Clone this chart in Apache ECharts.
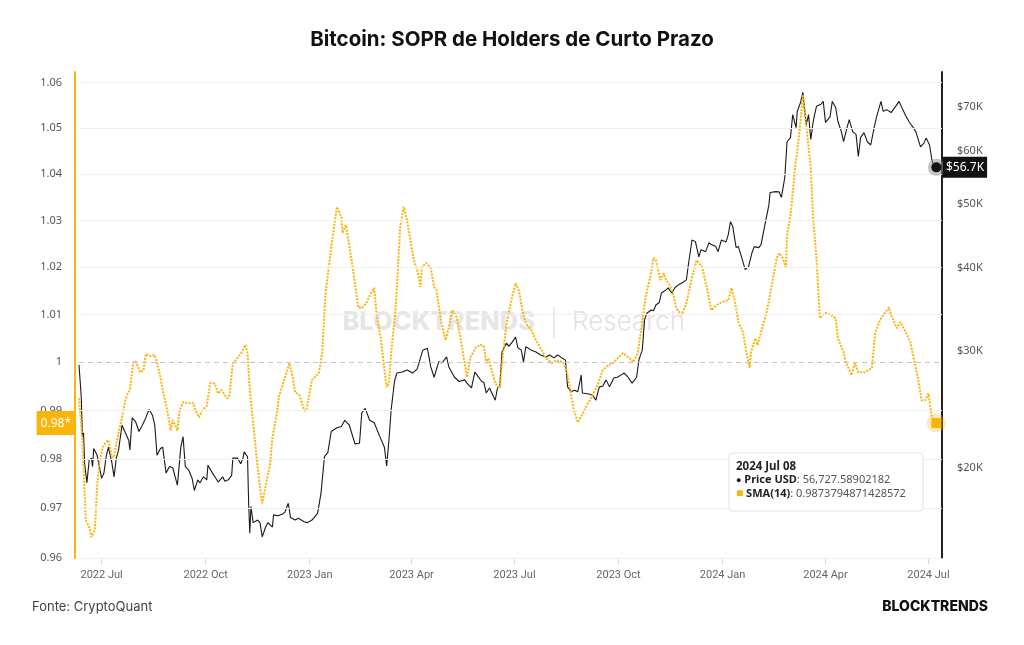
<!DOCTYPE html>
<html><head><meta charset="utf-8">
<script src="https://cdn.jsdelivr.net/npm/echarts@6/dist/echarts.min.js"></script>
<style>html,body{margin:0;padding:0;background:#fff}#c{width:1024px;height:645px}</style>
</head><body><div id="c"></div>
<script>
const smaDates = ['2022-06-11','2022-06-14','2022-06-17','2022-06-20','2022-06-22','2022-06-25','2022-06-27','2022-06-29','2022-07-02','2022-07-04','2022-07-07','2022-07-10','2022-07-12','2022-07-14','2022-07-17','2022-07-19','2022-07-22','2022-07-24','2022-07-26','2022-07-29','2022-07-31','2022-08-04','2022-08-07','2022-08-09','2022-08-13','2022-08-17','2022-08-19','2022-08-22','2022-08-24','2022-08-28','2022-08-31','2022-09-02','2022-09-06','2022-09-08','2022-09-11','2022-09-15','2022-09-20','2022-09-22','2022-09-25','2022-09-28','2022-10-02','2022-10-05','2022-10-09','2022-10-12','2022-10-15','2022-10-20','2022-10-22','2022-10-25','2022-10-29','2022-11-02','2022-11-05','2022-11-07','2022-11-09','2022-11-12','2022-11-15','2022-11-18','2022-11-20','2022-11-24','2022-11-27','2022-11-29','2022-12-03','2022-12-05','2022-12-08','2022-12-12','2022-12-14','2022-12-17','2022-12-19','2022-12-23','2022-12-27','2022-12-29','2023-01-03','2023-01-09','2023-01-12','2023-01-15','2023-01-20','2023-01-25','2023-01-29','2023-01-30','2023-02-02','2023-02-07','2023-02-13','2023-02-16','2023-02-20','2023-02-24','2023-02-27','2023-03-01','2023-03-05','2023-03-07','2023-03-10','2023-03-12','2023-03-14','2023-03-18','2023-03-22','2023-03-25','2023-03-28','2023-03-31','2023-04-03','2023-04-06','2023-04-09','2023-04-10','2023-04-14','2023-04-18','2023-04-21','2023-04-23','2023-04-27','2023-05-01','2023-05-04','2023-05-07','2023-05-11','2023-05-15','2023-05-20','2023-05-23','2023-05-28','2023-06-01','2023-06-04','2023-06-06','2023-06-08','2023-06-11','2023-06-14','2023-06-18','2023-06-20','2023-06-24','2023-06-29','2023-07-02','2023-07-05','2023-07-08','2023-07-11','2023-07-16','2023-07-20','2023-07-25','2023-07-29','2023-08-03','2023-08-07','2023-08-13','2023-08-16','2023-08-19','2023-08-22','2023-08-26','2023-08-31','2023-09-04','2023-09-09','2023-09-13','2023-09-17','2023-09-22','2023-09-26','2023-10-01','2023-10-05','2023-10-10','2023-10-14','2023-10-18','2023-10-21','2023-10-25','2023-10-29','2023-11-01','2023-11-03','2023-11-07','2023-11-10','2023-11-12','2023-11-16','2023-11-19','2023-11-21','2023-11-26','2023-11-30','2023-12-05','2023-12-09','2023-12-14','2023-12-18','2023-12-22','2023-12-27','2023-12-31','2024-01-06','2024-01-09','2024-01-12','2024-01-15','2024-01-19','2024-01-22','2024-01-25','2024-01-26','2024-01-30','2024-02-01','2024-02-04','2024-02-09','2024-02-12','2024-02-15','2024-02-18','2024-02-20','2024-02-23','2024-02-26','2024-02-27','2024-03-01','2024-03-02','2024-03-05','2024-03-08','2024-03-11','2024-03-12','2024-03-15','2024-03-19','2024-03-21','2024-03-24','2024-03-27','2024-03-29','2024-04-02','2024-04-06','2024-04-10','2024-04-12','2024-04-17','2024-04-19','2024-04-24','2024-04-27','2024-04-30','2024-05-06','2024-05-12','2024-05-15','2024-05-20','2024-05-24','2024-05-27','2024-05-29','2024-06-03','2024-06-06','2024-06-11','2024-06-15','2024-06-18','2024-06-22','2024-06-25','2024-06-28','2024-07-01','2024-07-04','2024-07-08'];
const smaValues = [0.9925,0.9839,0.9676,0.9662,0.9642,0.9656,0.9743,0.9791,0.9824,0.9832,0.9839,0.9804,0.9804,0.9832,0.9865,0.9886,0.9921,0.9935,0.9942,1.0000,1.0002,0.9979,0.9983,1.0017,1.0013,1.0015,0.9998,0.9969,0.9942,0.9900,0.9859,0.9880,0.9859,0.9900,0.9917,0.9915,0.9915,0.9900,0.9886,0.9900,0.9910,0.9956,0.9956,0.9935,0.9942,0.9925,0.9931,0.9998,1.0008,1.0021,1.0036,1.0019,0.9942,0.9873,0.9804,0.9743,0.9710,0.9757,0.9791,0.9845,0.9894,0.9931,0.9952,0.9983,0.9998,0.9969,0.9938,0.9931,0.9900,0.9900,0.9963,0.9977,1.0019,1.0145,1.0243,1.0329,1.0307,1.0273,1.0290,1.0215,1.0115,1.0113,1.0124,1.0145,1.0156,1.0103,1.0046,1.0004,0.9948,0.9956,1.0019,1.0115,1.0286,1.0329,1.0301,1.0258,1.0215,1.0194,1.0158,1.0200,1.0209,1.0198,1.0158,1.0151,1.0088,1.0046,1.0073,1.0109,1.0094,1.0040,0.9969,1.0010,1.0031,1.0036,1.0034,0.9998,1.0008,0.9983,0.9956,0.9946,0.9998,1.0082,1.0137,1.0166,1.0150,1.0109,1.0082,1.0067,1.0046,1.0025,1.0008,0.9998,1.0004,1.0000,0.9983,0.9948,0.9906,0.9875,0.9896,0.9915,0.9935,0.9956,0.9983,0.9994,0.9998,1.0010,1.0019,1.0010,1.0000,1.0019,1.0067,1.0137,1.0179,1.0220,1.0215,1.0173,1.0187,1.0173,1.0158,1.0137,1.0113,1.0099,1.0124,1.0179,1.0215,1.0200,1.0158,1.0109,1.0120,1.0126,1.0130,1.0156,1.0126,1.0084,1.0063,1.0021,0.9988,1.0021,1.0050,1.0036,1.0063,1.0105,1.0141,1.0183,1.0220,1.0230,1.0220,1.0200,1.0268,1.0311,1.0333,1.0413,1.0470,1.0544,1.0573,1.0507,1.0413,1.0305,1.0220,1.0092,1.0099,1.0103,1.0099,1.0092,1.0050,1.0021,1.0000,0.9973,0.9998,0.9979,0.9979,0.9988,1.0063,1.0092,1.0105,1.0115,1.0099,1.0071,1.0084,1.0063,1.0042,1.0008,0.9963,0.9921,0.9921,0.9935,0.9886,0.9873794871428572];

const priceDates = ['2022-06-11','2022-06-13','2022-06-14','2022-06-15','2022-06-16','2022-06-18','2022-06-20','2022-06-22','2022-06-23','2022-06-24','2022-06-27','2022-06-29','2022-07-01','2022-07-03','2022-07-05','2022-07-07','2022-07-10','2022-07-12','2022-07-14','2022-07-16','2022-07-19','2022-07-22','2022-07-25','2022-07-26','2022-07-28','2022-07-31','2022-08-03','2022-08-06','2022-08-09','2022-08-12','2022-08-15','2022-08-17','2022-08-19','2022-08-22','2022-08-24','2022-08-27','2022-08-30','2022-09-02','2022-09-04','2022-09-06','2022-09-09','2022-09-11','2022-09-13','2022-09-16','2022-09-19','2022-09-21','2022-09-24','2022-09-26','2022-09-29','2022-10-02','2022-10-03','2022-10-07','2022-10-10','2022-10-12','2022-10-16','2022-10-18','2022-10-21','2022-10-24','2022-10-25','2022-10-29','2022-11-01','2022-11-03','2022-11-04','2022-11-07','2022-11-08','2022-11-09','2022-11-10','2022-11-12','2022-11-16','2022-11-18','2022-11-20','2022-11-23','2022-11-25','2022-11-29','2022-11-30','2022-12-04','2022-12-08','2022-12-10','2022-12-13','2022-12-15','2022-12-19','2022-12-22','2022-12-27','2022-12-30','2023-01-03','2023-01-08','2023-01-11','2023-01-14','2023-01-17','2023-01-20','2023-01-25','2023-01-29','2023-02-01','2023-02-05','2023-02-10','2023-02-14','2023-02-16','2023-02-19','2023-02-23','2023-02-27','2023-03-04','2023-03-08','2023-03-10','2023-03-12','2023-03-14','2023-03-17','2023-03-19','2023-03-24','2023-03-28','2023-04-02','2023-04-06','2023-04-11','2023-04-15','2023-04-18','2023-04-21','2023-04-25','2023-04-28','2023-05-02','2023-05-04','2023-05-09','2023-05-13','2023-05-18','2023-05-20','2023-05-24','2023-05-27','2023-05-29','2023-06-02','2023-06-04','2023-06-06','2023-06-09','2023-06-11','2023-06-14','2023-06-16','2023-06-18','2023-06-20','2023-06-24','2023-06-26','2023-06-29','2023-07-02','2023-07-04','2023-07-07','2023-07-09','2023-07-11','2023-07-16','2023-07-20','2023-07-24','2023-07-29','2023-08-01','2023-08-05','2023-08-08','2023-08-12','2023-08-15','2023-08-17','2023-08-20','2023-08-23','2023-08-26','2023-08-29','2023-08-30','2023-09-02','2023-09-05','2023-09-08','2023-09-11','2023-09-14','2023-09-17','2023-09-20','2023-09-23','2023-09-27','2023-09-30','2023-10-03','2023-10-06','2023-10-09','2023-10-13','2023-10-17','2023-10-19','2023-10-22','2023-10-24','2023-10-26','2023-10-30','2023-11-01','2023-11-03','2023-11-06','2023-11-08','2023-11-12','2023-11-14','2023-11-17','2023-11-20','2023-11-23','2023-11-26','2023-11-30','2023-12-02','2023-12-05','2023-12-08','2023-12-11','2023-12-13','2023-12-17','2023-12-20','2023-12-22','2023-12-26','2023-12-28','2023-12-31','2024-01-04','2024-01-06','2024-01-08','2024-01-10','2024-01-13','2024-01-15','2024-01-18','2024-01-21','2024-01-24','2024-01-27','2024-01-29','2024-02-02','2024-02-04','2024-02-08','2024-02-11','2024-02-12','2024-02-17','2024-02-20','2024-02-22','2024-02-25','2024-02-27','2024-03-01','2024-03-03','2024-03-06','2024-03-07','2024-03-10','2024-03-12','2024-03-13','2024-03-15','2024-03-17','2024-03-19','2024-03-21','2024-03-23','2024-03-24','2024-03-28','2024-03-30','2024-04-01','2024-04-05','2024-04-07','2024-04-10','2024-04-12','2024-04-15','2024-04-17','2024-04-20','2024-04-22','2024-04-25','2024-04-28','2024-04-30','2024-05-02','2024-05-05','2024-05-08','2024-05-11','2024-05-14','2024-05-16','2024-05-20','2024-05-22','2024-05-25','2024-05-29','2024-06-02','2024-06-05','2024-06-08','2024-06-11','2024-06-14','2024-06-18','2024-06-20','2024-06-24','2024-06-27','2024-06-29','2024-07-02','2024-07-04','2024-07-05','2024-07-08'];
const priceValues = [28600,25600,22300,22600,20300,19000,20560,20700,20100,21400,20900,20100,19300,19650,20800,21500,20400,19400,20700,21300,23200,22600,22000,21300,23800,23500,22700,23200,23800,24500,24000,23200,20900,21400,21500,19650,20100,20000,19400,18850,21500,22300,20100,19850,19300,18500,19200,19000,19400,19200,20200,19650,19300,19050,19400,19100,19200,19500,20700,20700,20300,20700,21150,20800,17700,15950,17500,16550,16700,16550,15750,16300,16550,16300,17000,16950,17050,17150,17700,16850,16700,16800,16600,16550,16700,17100,18350,20800,21100,22700,23000,23100,23600,23200,21750,21800,24200,24600,23600,23400,22300,21500,20150,22000,24500,27050,27800,27900,28100,27800,28200,30100,30300,28400,27400,28900,28800,29400,28400,27400,27000,27150,26850,26400,27900,27600,27000,26900,25950,26400,25950,25300,26400,26500,29900,30850,30500,30950,31500,30350,30100,28900,30450,30100,29900,29600,29400,29600,29300,29600,29300,29100,26500,26050,26200,26050,27600,25950,25900,25850,25750,25300,26500,26550,27150,26500,27350,27400,27600,27800,27450,26850,27400,29100,30100,33400,34200,34600,34500,35200,35500,36700,37100,37350,36700,37400,37750,38000,38400,40750,44100,43850,41600,42650,42350,43700,43400,43100,42350,44100,43800,44900,47000,46200,42950,43100,41450,39800,40200,42200,43100,42950,43400,47000,49850,52000,52150,52100,51100,54750,62000,62900,68100,65100,68850,71100,73600,70600,65800,68100,62500,66300,68900,70100,70600,71300,66300,67600,71300,69800,66500,64200,62000,65100,66950,64200,63600,58900,62900,64000,62000,61300,65100,67400,71300,68900,69300,68600,70100,71300,69500,67800,66400,65000,64100,60900,61700,62800,61300,58300,57500,56727.58902182];

const leftTicks = [0.96,0.97,0.98,0.99,1,1.01,1.02,1.03,1.04,1.05,1.06];
const rightTicks = [20000,30000,40000,50000,60000,70000];
const xMin = '2022-06-11', xMax = '2024-07-13';
const leftRange = [0.96, 1.06237];
const rightRange = [14640, 78960];

const MON = ['Jan','Feb','Mar','Apr','May','Jun','Jul','Aug','Sep','Oct','Nov','Dec'];
const ORANGE = '#F9B50B';
const DAY = 86400000;
const priceData = priceDates.map((d,i)=>[d, priceValues[i]]);
const smaData = smaDates.map((d,i)=>[d, smaValues[i]]);
const lastP = priceData[priceData.length-1];
const lastS = smaData[smaData.length-1];
const ld = lastP[0].split('-');
const tipDate = ld[0] + ' ' + MON[+ld[1]-1] + ' ' + ld[2];
const tipPrice = lastP[1].toLocaleString('en-US', {maximumFractionDigits: 8});
const tipSma = String(lastS[1]);
const smaTag = (Math.floor(lastS[1]*100)/100).toFixed(2) + '*';
const priceTag = '$' + (lastP[1]/1000).toFixed(1) + 'K';

const chart = echarts.init(document.getElementById('c'));
const noLine = {color:'rgba(0,0,0,0)', width:0};
chart.setOption({
  animation:false,
  backgroundColor:'#fff',
  title:{text:'Bitcoin: SOPR de Holders de Curto Prazo', left:'center', top:24,
    textStyle:{fontFamily:'Inter', fontWeight:'bold', fontSize:20.5, color:'#111'}},
  grid:{left:79, right:82, top:72, bottom:87},
  xAxis:{type:'time', min:xMin, max:xMax, splitNumber:8, minInterval:91*DAY, maxInterval:100*DAY,
    axisLine:{show:true, lineStyle:{color:'#e4e4e4', width:1}},
    axisTick:{show:true, length:6, lineStyle:{color:'#d6d6d6'}},
    axisLabel:{color:'#666', fontSize:11, fontFamily:'Roboto', margin:12, hideOverlap:false,
      formatter:v=>{const d=new Date(v); return d.getFullYear()+' '+MON[d.getMonth()];}},
    splitLine:{show:false}},
  yAxis:[
    {type:'log', min:leftRange[0], max:leftRange[1], position:'left', offset:4,
      axisLine:{show:true, lineStyle:{color:ORANGE, width:2}}, axisTick:{show:false}, axisLabel:{show:false}, splitLine:{show:false}},
    {type:'log', min:rightRange[0], max:rightRange[1], position:'right',
      axisLine:{show:true, lineStyle:{color:'#222', width:2}}, axisTick:{show:false}, axisLabel:{show:false}, splitLine:{show:false}}
  ],
  series:[
    {type:'line', yAxisIndex:0, data:[], silent:true, z:1,
      markLine:{silent:true, symbol:['none','none'], precision:10,
        label:{show:true, position:'start', distance:17, color:'#555', fontSize:11, fontFamily:'Noto Sans', formatter:p=>String(p.value)},
        lineStyle:{color:'#efefef', width:1, type:'solid'},
        data:leftTicks.map(v=> v===1 ? {yAxis:v, lineStyle:{color:'#c4c4cc', type:[5,4], width:1}} : {yAxis:v})}},
    {type:'line', yAxisIndex:1, data:[], silent:true, z:1,
      markLine:{silent:true, symbol:['none','none'], precision:10,
        label:{show:true, position:'end', distance:15, color:'#555', fontSize:11, fontFamily:'Noto Sans', formatter:p=>'$'+(p.value/1000)+'K'},
        lineStyle:noLine,
        data:rightTicks.map(v=>({yAxis:v}))}},
    {name:'Price USD', type:'line', yAxisIndex:1, data:priceData, symbol:'none', showSymbol:false, z:3,
      lineStyle:{color:'#1a1a1a', width:1.1}, itemStyle:{color:'#1a1a1a'},
      markLine:{silent:true, symbol:['none','none'], lineStyle:noLine, precision:10,
        label:{show:true, position:'end', distance:1, color:'#fff', backgroundColor:'#111', padding:[5,3,4,3], fontSize:12, fontFamily:'Noto Sans',
          formatter:priceTag},
        data:[{yAxis:lastP[1]}]},
      markPoint:{silent:true, label:{show:false}, data:[
        {coord:lastP, symbol:'circle', symbolSize:17, itemStyle:{color:'rgba(140,140,140,0.5)'}},
        {coord:lastP, symbol:'circle', symbolSize:10, itemStyle:{color:'#111'}}]}},
    {name:'SMA(14)', type:'line', yAxisIndex:0, data:smaData, symbol:'none', showSymbol:false, z:4,
      lineStyle:{color:ORANGE, width:2, type:[2,1.3]}, itemStyle:{color:ORANGE},
      markLine:{silent:true, symbol:['none','none'], lineStyle:noLine, precision:10,
        label:{show:true, position:'start', distance:4, color:'#fff', backgroundColor:ORANGE, padding:[6,4,6,4], fontSize:12, fontFamily:'Noto Sans',
          formatter:smaTag},
        data:[{yAxis:lastS[1]}]},
      markPoint:{silent:true, label:{show:false}, data:[
        {coord:lastS, symbol:'circle', symbolSize:19, itemStyle:{color:'rgba(249,181,11,0.28)'}},
        {coord:lastS, symbol:'rect', symbolSize:10, itemStyle:{color:ORANGE}}]}}
  ],
  graphic:[
    {type:'text', z:0, x:535, y:322, silent:true, style:{text:'BLOCKTRENDS', font:'800 25.5px Inter', fill:'#e6e6e6', align:'right', textAlign:'right', verticalAlign:'middle', textVerticalAlign:'middle'}},
    {type:'line', z:0, silent:true, shape:{x1:554, y1:307, x2:554, y2:338}, style:{stroke:'#e4e4e4', lineWidth:1.5}},
    {type:'text', z:0, x:572, y:322, silent:true, style:{text:'Research', font:'300 26px Inter', fill:'#e2e2e2', align:'left', textAlign:'left', verticalAlign:'middle', textVerticalAlign:'middle'}},
    {type:'group', x:729, y:453, z:100, children:[
      {type:'rect', z:100, shape:{x:0, y:0, width:194, height:58, r:4}, style:{fill:'#fff', stroke:'#e2e2e2', lineWidth:1}},
      {type:'text', z:101, x:7, y:7, style:{
        text:'{d|'+tipDate+'}\n{k|●} {b|Price USD}{v|: '+tipPrice+'}\n{s|■} {b|SMA(14)}{v|: '+tipSma+'}',
        font:'11px "Noto Sans"', fill:'#555',
        rich:{
          d:{fontFamily:'Noto Sans', fontWeight:'bold', fontSize:11.5, fill:'#222', lineHeight:13.5},
          k:{fontFamily:'Noto Sans', fontSize:9, fill:'#111', lineHeight:13.5},
          s:{fontFamily:'Noto Sans', fontSize:12, fill:ORANGE, lineHeight:13.5},
          b:{fontFamily:'Noto Sans', fontWeight:'bold', fontSize:11, fill:'#222', lineHeight:13.5},
          v:{fontFamily:'Noto Sans', fontSize:11, fill:'#555', lineHeight:13.5}
        }}}
    ]},
    {type:'text', x:32, y:607, style:{text:'Fonte: CryptoQuant', font:'13px Inter', fill:'#444', verticalAlign:'middle', textVerticalAlign:'middle'}},
    {type:'text', x:988, y:607, style:{text:'BLOCKTRENDS', font:'800 14px Inter', fill:'#111', align:'right', textAlign:'right', verticalAlign:'middle', textVerticalAlign:'middle'}}
  ]
});
</script>
</body></html>
